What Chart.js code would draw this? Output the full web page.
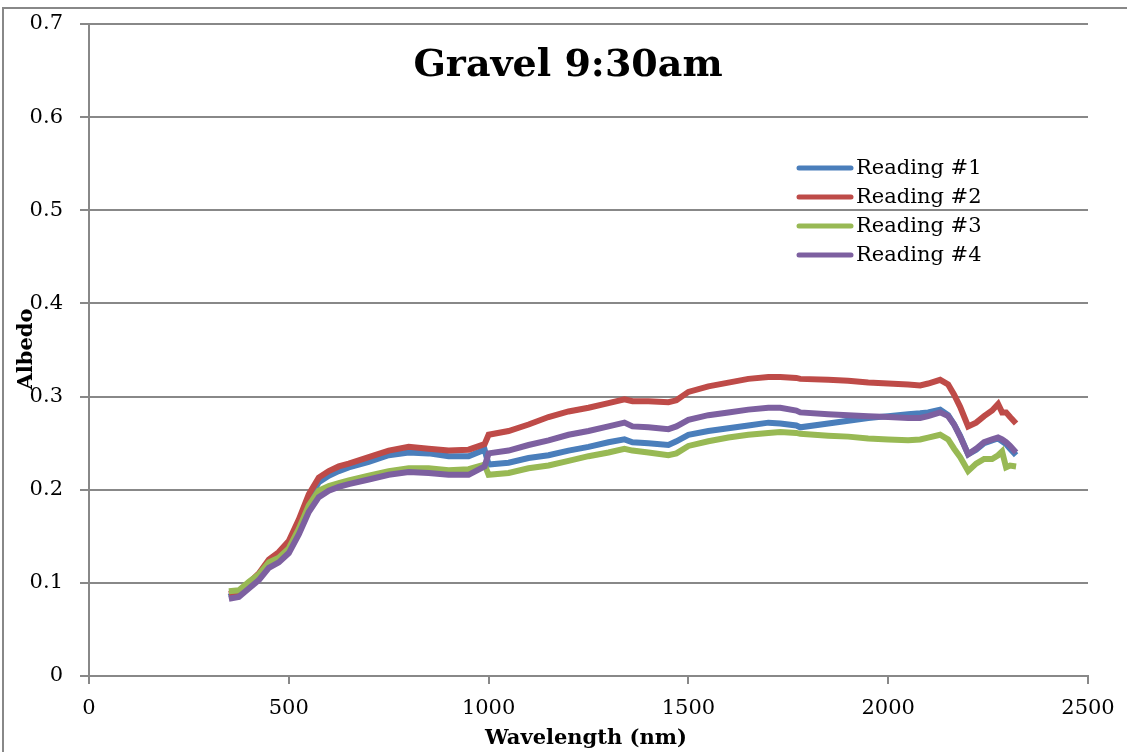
<!DOCTYPE html>
<html>
<head>
<meta charset="utf-8">
<title>Gravel 9:30am</title>
<script src="https://cdn.jsdelivr.net/npm/chart.js@4.4.1/dist/chart.umd.min.js"></script>
<style>
  html, body { margin: 0; padding: 0; background: #fff; }
  #wrap { width: 1127px; height: 752px; position: relative; }
</style>
</head>
<body>
<div id="wrap"><canvas id="albedoChart"></canvas></div>
<script>
// spectrometer readings over gravel, albedo vs wavelength (nm)
const wavelengths = [350, 375, 400, 425, 450, 475, 500, 525, 550, 575, 600, 625, 650, 700, 750, 800, 850, 900, 950, 990,
  1000, 1050, 1100, 1150, 1200, 1250, 1300, 1340, 1360, 1400, 1450, 1470, 1500, 1550, 1600, 1650, 1700, 1730, 1770, 1780,
  1850, 1900, 1950, 2000, 2050, 2080, 2100, 2130, 2150, 2165, 2180, 2200, 2220, 2240, 2260, 2275, 2285, 2295, 2305, 2320];

const reading1 = [0.085, 0.089, 0.099, 0.109, 0.123, 0.130, 0.141, 0.163, 0.190, 0.208, 0.215, 0.220, 0.224, 0.230, 0.237, 0.240, 0.239, 0.236, 0.236, 0.243,
  0.227, 0.229, 0.234, 0.237, 0.242, 0.246, 0.251, 0.254, 0.251, 0.250, 0.248, 0.252, 0.259, 0.263, 0.266, 0.269, 0.272, 0.271, 0.269, 0.267,
  0.271, 0.274, 0.277, 0.279, 0.281, 0.282, 0.283, 0.286, 0.280, 0.270, 0.258, 0.238, 0.243, 0.250, 0.253, 0.255, 0.252, 0.249, 0.244, 0.237];

const reading2 = [0.088, 0.090, 0.100, 0.110, 0.125, 0.133, 0.145, 0.168, 0.195, 0.213, 0.220, 0.225, 0.228, 0.235, 0.242, 0.246, 0.244, 0.242, 0.243, 0.249,
  0.259, 0.263, 0.270, 0.278, 0.284, 0.288, 0.293, 0.297, 0.295, 0.295, 0.294, 0.296, 0.305, 0.311, 0.315, 0.319, 0.321, 0.321, 0.320, 0.319,
  0.318, 0.317, 0.315, 0.314, 0.313, 0.312, 0.314, 0.318, 0.313, 0.302, 0.289, 0.268, 0.272, 0.279, 0.285, 0.292, 0.283, 0.283, 0.278, 0.271];

const reading3 = [0.091, 0.092, 0.101, 0.109, 0.122, 0.127, 0.137, 0.158, 0.183, 0.199, 0.204, 0.207, 0.210, 0.215, 0.220, 0.223, 0.223, 0.221, 0.222, 0.227,
  0.216, 0.218, 0.223, 0.226, 0.231, 0.236, 0.240, 0.244, 0.242, 0.240, 0.237, 0.239, 0.247, 0.252, 0.256, 0.259, 0.261, 0.262, 0.261, 0.260,
  0.258, 0.257, 0.255, 0.254, 0.253, 0.254, 0.256, 0.259, 0.254, 0.244, 0.235, 0.220, 0.228, 0.233, 0.233, 0.237, 0.241, 0.224, 0.226, 0.225];

const reading4 = [0.083, 0.085, 0.094, 0.103, 0.116, 0.122, 0.132, 0.152, 0.176, 0.192, 0.199, 0.203, 0.206, 0.211, 0.216, 0.219, 0.218, 0.216, 0.216, 0.225,
  0.239, 0.242, 0.248, 0.253, 0.259, 0.263, 0.268, 0.272, 0.268, 0.267, 0.265, 0.268, 0.275, 0.280, 0.283, 0.286, 0.288, 0.288, 0.285, 0.283,
  0.281, 0.280, 0.279, 0.278, 0.277, 0.277, 0.279, 0.283, 0.279, 0.270, 0.257, 0.238, 0.244, 0.251, 0.254, 0.256, 0.254, 0.251, 0.247, 0.240];

const seriesNames = ['Reading #1', 'Reading #2', 'Reading #3', 'Reading #4'];
const seriesValues = [reading1, reading2, reading3, reading4];
const seriesColors = ['#4a7ebb', '#be4b48', '#98b954', '#7d60a0'];

const xTicks = [0, 500, 1000, 1500, 2000, 2500];
const yTicks = [0, 0.1, 0.2, 0.3, 0.4, 0.5, 0.6, 0.7];

const serif = '"DejaVu Serif", "Liberation Serif", serif';
const gridGray = '#888888';

// outer frame, heading, axis titles and the legend box
const decorations = {
  id: 'decorations',
  beforeDraw(chart) {
    const ctx = chart.ctx;
    ctx.save();
    ctx.fillStyle = '#fff';
    ctx.fillRect(0, 0, chart.width, chart.height);
    ctx.strokeStyle = gridGray;
    ctx.lineWidth = 2;
    ctx.beginPath();
    ctx.moveTo(3, chart.height);
    ctx.lineTo(3, 8);
    ctx.lineTo(chart.width, 8);
    ctx.stroke();
    ctx.restore();
  },
  afterDraw(chart) {
    const ctx = chart.ctx;
    ctx.save();
    ctx.fillStyle = '#000';

    ctx.font = 'bold 38px ' + serif;
    ctx.textAlign = 'center';
    ctx.textBaseline = 'alphabetic';
    ctx.fillText('Gravel 9:30am', 568, 76);

    ctx.font = 'bold 21px ' + serif;
    ctx.fillText('Wavelength (nm)', 586, 744);

    ctx.save();
    ctx.translate(32, 349);
    ctx.rotate(-Math.PI / 2);
    ctx.fillText('Albedo', 0, 0);
    ctx.restore();

    // legend
    ctx.font = '21px ' + serif;
    ctx.textAlign = 'left';
    ctx.textBaseline = 'middle';
    ctx.lineCap = 'round';
    seriesNames.forEach((name, i) => {
      const y = 168 + i * 29;
      ctx.strokeStyle = seriesColors[i];
      ctx.lineWidth = 5;
      ctx.beginPath();
      ctx.moveTo(799, y);
      ctx.lineTo(851, y);
      ctx.stroke();
      ctx.fillText(name, 856, y + 1);
    });
    ctx.restore();
  }
};

const datasets = seriesNames.map((name, i) => ({
  label: name,
  data: wavelengths.map((w, j) => ({ x: w, y: seriesValues[i][j] })),
  borderColor: seriesColors[i],
  backgroundColor: seriesColors[i],
  borderWidth: 6,
  pointRadius: 0,
  tension: 0,
  fill: false,
  order: seriesNames.length - i
}));

new Chart(document.getElementById('albedoChart'), {
  type: 'line',
  data: { datasets },
  options: {
    responsive: true, maintainAspectRatio: false, animation: false,
    layout: { padding: { top: 24, right: 39, left: 0, bottom: 0 } },
    plugins: { legend: { display: false }, tooltip: { enabled: false } },
    scales: {
      x: {
        type: 'linear', min: 0, max: 2500,
        afterBuildTicks: s => { s.ticks = xTicks.map(v => ({ value: v })); },
        afterFit: s => { s.height = 76; },
        grid: { drawOnChartArea: false, drawTicks: true, tickLength: 8, color: gridGray, lineWidth: 2 },
        border: { display: true, color: gridGray, width: 2 },
        ticks: { color: '#000', font: { family: serif, size: 21 }, padding: 12, maxRotation: 0, callback: v => String(v) }
      },
      y: {
        min: 0, max: 0.7,
        afterBuildTicks: s => { s.ticks = yTicks.map(v => ({ value: v })); },
        afterFit: s => { s.width = 89; s.paddingTop = 0; s.paddingBottom = 0; },
        grid: { drawTicks: true, tickLength: 9, color: gridGray, lineWidth: 2 },
        border: { display: true, color: gridGray, width: 2 },
        ticks: { color: '#000', font: { family: serif, size: 21 }, padding: 17, callback: v => v === 0 ? '0' : v.toFixed(1) }
      }
    }
  },
  plugins: [decorations]
});
</script>
</body>
</html>
